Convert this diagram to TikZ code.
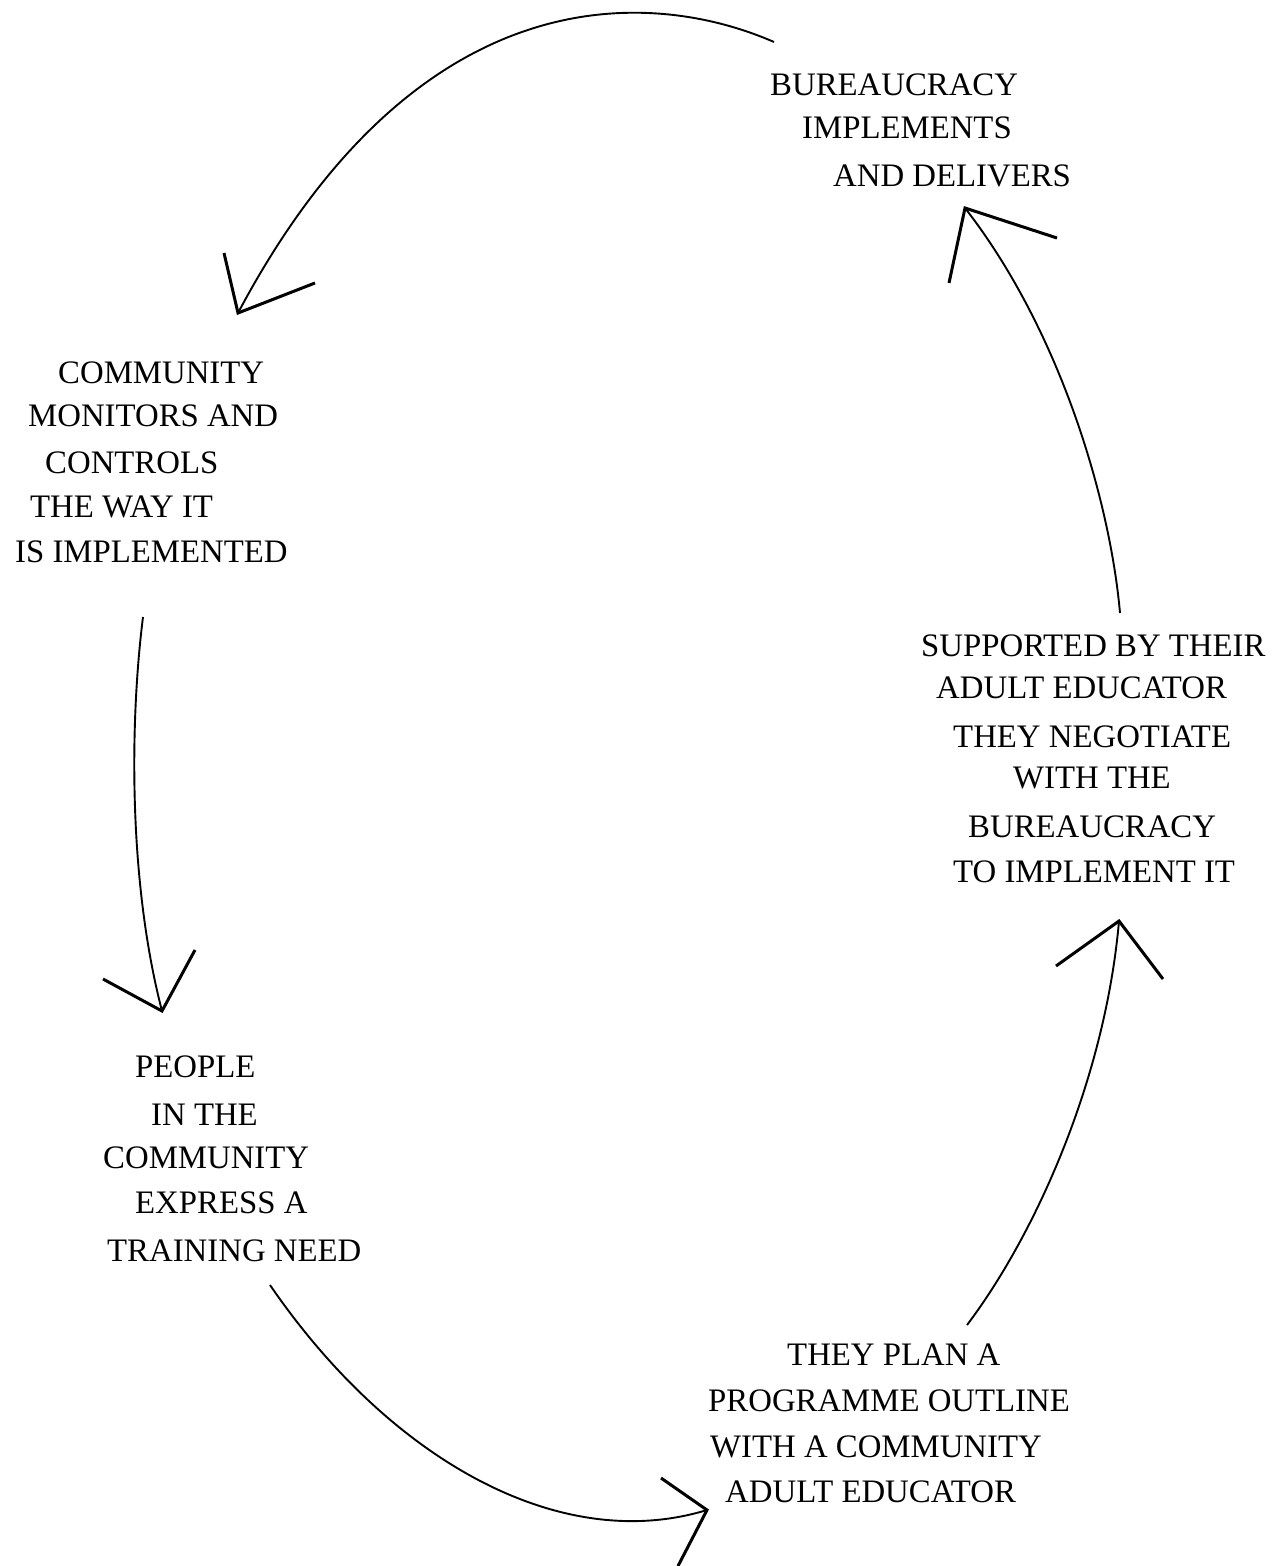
\documentclass[tikz,border=0pt]{standalone}
\usepackage{fontspec}
\setmainfont{Liberation Serif}
\begin{document}
\begin{tikzpicture}[x=1pt,y=-1pt,
  lbl/.style={anchor=base west,inner sep=0pt,font=\fontsize{32.8}{39}\selectfont},
  arc/.style={line width=1.9pt},
  vhead/.style={line width=3pt,line join=miter}]
\useasboundingbox (0,0) rectangle (1274,1566);
% Texts
\node[lbl] (b1) at (770,95) {BUREAUCRACY};
\node[lbl] (b2) at (802,138) {IMPLEMENTS};
\node[lbl] (b3) at (833,186) {AND DELIVERS};
\node[lbl] (c1) at (58,383) {COMMUNITY};
\node[lbl] (c2) at (28,426) {MONITORS AND};
\node[lbl] (c3) at (45,473) {CONTROLS};
\node[lbl] (c4) at (30,517) {THE WAY IT};
\node[lbl] (c5) at (15,562) {IS IMPLEMENTED};
\node[lbl] (p1) at (135,1077) {PEOPLE};
\node[lbl] (p2) at (151,1125) {IN THE};
\node[lbl] (p3) at (103,1168) {COMMUNITY};
\node[lbl] (p4) at (135,1213) {EXPRESS A};
\node[lbl] (p5) at (107,1261) {TRAINING NEED};
\node[lbl] (t1) at (787,1365) {THEY PLAN A};
\node[lbl] (t2) at (708,1411) {PROGRAMME OUTLINE};
\node[lbl] (t3) at (710,1457) {WITH A COMMUNITY};
\node[lbl] (t4) at (725,1502) {ADULT EDUCATOR};
\node[lbl] (s1) at (921,656) {SUPPORTED BY THEIR};
\node[lbl] (s2) at (936,698) {ADULT EDUCATOR};
\node[lbl] (s3) at (953,747) {THEY NEGOTIATE};
\node[lbl] (s4) at (1013,788) {WITH THE};
\node[lbl] (s5) at (968,837) {BUREAUCRACY};
\node[lbl] (s6) at (953,882) {TO IMPLEMENT IT};
% connector end points
\coordinate (A1) at (774,42);   \coordinate (T1) at (238,313);
\coordinate (A2) at (143,617);  \coordinate (T2) at (162,1011);
\coordinate (A3) at (270,1285); \coordinate (T3) at (707,1510);
\coordinate (A4) at (967,1325); \coordinate (T4) at (1119,921);
\coordinate (A5) at (1120,613); \coordinate (T5) at (965,208);
% arcs
\draw[arc] (A1) .. controls (655,-10) and (420,-30) .. (T1);
\draw[arc] (A2) .. controls (130,720) and (128,880) .. (T2);
\draw[arc] (A3) .. controls (390,1460) and (560,1555) .. (T3);
\draw[arc] (A4) .. controls (1035,1235) and (1105,1080) .. (T4);
\draw[arc] (A5) .. controls (1110,500) and (1060,330) .. (T5);
% open heads
\draw[vhead] (224,253) -- (T1) -- (315,283);
\draw[vhead] (103,979) -- (T2) -- (195,950);
\draw[vhead] (661,1478) -- (T3) -- (678,1566);
\draw[vhead] (1056,966) -- (T4) -- (1163,979);
\draw[vhead] (949,283) -- (T5) -- (1057,238);
\end{tikzpicture}
\end{document}
